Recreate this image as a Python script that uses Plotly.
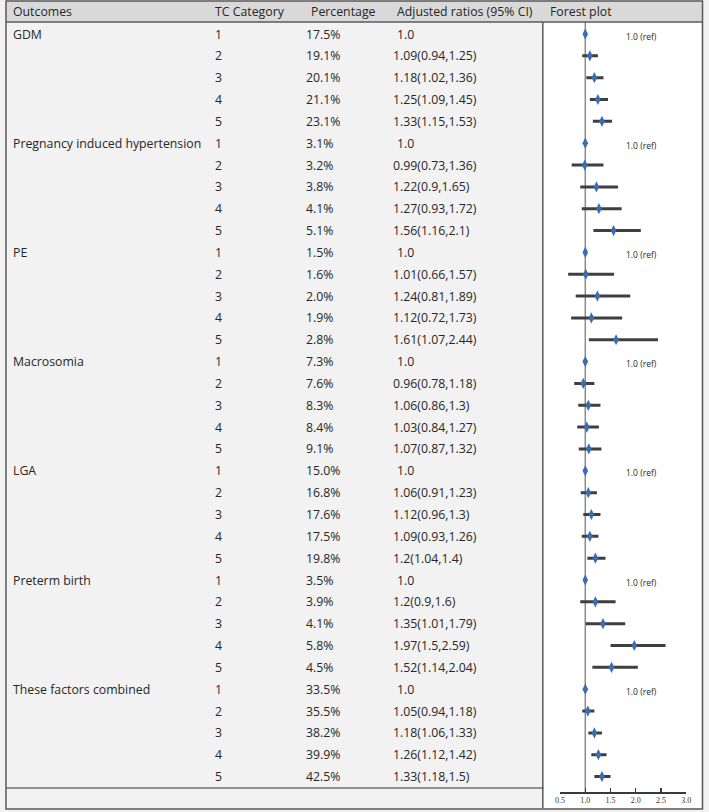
import plotly.graph_objects as go

# ---------------- data ----------------
outcomes = ["GDM", "Pregnancy induced hypertension", "PE", "Macrosomia",
            "LGA", "Preterm birth", "These factors combined"]
categories = ["1", "2", "3", "4", "5"]
percentages = [
    ["17.5%", "19.1%", "20.1%", "21.1%", "23.1%"],
    ["3.1%", "3.2%", "3.8%", "4.1%", "5.1%"],
    ["1.5%", "1.6%", "2.0%", "1.9%", "2.8%"],
    ["7.3%", "7.6%", "8.3%", "8.4%", "9.1%"],
    ["15.0%", "16.8%", "17.6%", "17.5%", "19.8%"],
    ["3.5%", "3.9%", "4.1%", "5.8%", "4.5%"],
    ["33.5%", "35.5%", "38.2%", "39.9%", "42.5%"],
]
ratio_labels = [
    ["1.0", "1.09(0.94,1.25)", "1.18(1.02,1.36)", "1.25(1.09,1.45)", "1.33(1.15,1.53)"],
    ["1.0", "0.99(0.73,1.36)", "1.22(0.9,1.65)", "1.27(0.93,1.72)", "1.56(1.16,2.1)"],
    ["1.0", "1.01(0.66,1.57)", "1.24(0.81,1.89)", "1.12(0.72,1.73)", "1.61(1.07,2.44)"],
    ["1.0", "0.96(0.78,1.18)", "1.06(0.86,1.3)", "1.03(0.84,1.27)", "1.07(0.87,1.32)"],
    ["1.0", "1.06(0.91,1.23)", "1.12(0.96,1.3)", "1.09(0.93,1.26)", "1.2(1.04,1.4)"],
    ["1.0", "1.2(0.9,1.6)", "1.35(1.01,1.79)", "1.97(1.5,2.59)", "1.52(1.14,2.04)"],
    ["1.0", "1.05(0.94,1.18)", "1.18(1.06,1.33)", "1.26(1.12,1.42)", "1.33(1.18,1.5)"],
]
ratios = [
    [1.0, 1.09, 1.18, 1.25, 1.33],
    [1.0, 0.99, 1.22, 1.27, 1.56],
    [1.0, 1.01, 1.24, 1.12, 1.61],
    [1.0, 0.96, 1.06, 1.03, 1.07],
    [1.0, 1.06, 1.12, 1.09, 1.20],
    [1.0, 1.20, 1.35, 1.97, 1.52],
    [1.0, 1.05, 1.18, 1.26, 1.33],
]
ci_low = [
    [1.0, 0.94, 1.02, 1.09, 1.15],
    [1.0, 0.73, 0.90, 0.93, 1.16],
    [1.0, 0.66, 0.81, 0.72, 1.07],
    [1.0, 0.78, 0.86, 0.84, 0.87],
    [1.0, 0.91, 0.96, 0.93, 1.04],
    [1.0, 0.90, 1.01, 1.50, 1.14],
    [1.0, 0.94, 1.06, 1.12, 1.18],
]
ci_high = [
    [1.0, 1.25, 1.36, 1.45, 1.53],
    [1.0, 1.36, 1.65, 1.72, 2.10],
    [1.0, 1.57, 1.89, 1.73, 2.44],
    [1.0, 1.18, 1.30, 1.27, 1.32],
    [1.0, 1.23, 1.30, 1.26, 1.40],
    [1.0, 1.60, 1.79, 2.59, 2.04],
    [1.0, 1.18, 1.33, 1.42, 1.50],
]
headers = ["Outcomes", "TC Category", "Percentage", "Adjusted ratios (95% CI)", "Forest plot"]
axis_ticks = [0.5, 1.0, 1.5, 2.0, 2.5, 3.0]
ref_label = "1.0 (ref)"

# ---------------- layout helpers ----------------
W, H = 709, 812
ROW0, ROWH = 34.0, 21.84
PANEL_TOP, AXIS_Y = 22.0, 792.0


def px(x):
    return x / W


def py(y):
    return 1 - y / H


def row_of(p):
    return (p - ROW0) / ROWH


FONT = "Open Sans"
TXT = "#262626"
FS = 12.3

fig = go.Figure()

ys, xs, ep, em = [], [], [], []
for g in range(len(outcomes)):
    for k in range(len(categories)):
        i = g * 5 + k
        ys.append(i)
        xs.append(ratios[g][k])
        ep.append(ci_high[g][k] - ratios[g][k])
        em.append(ratios[g][k] - ci_low[g][k])

fig.add_trace(go.Scatter(
    x=xs, y=ys, mode="markers",
    marker=dict(symbol="diamond-tall", size=8, color="#3b6db3",
                line=dict(width=0)),
    error_x=dict(type="data", symmetric=False, array=ep, arrayminus=em,
                 color="#3f3f3f", thickness=3, width=0),
    showlegend=False, hoverinfo="skip",
))

shapes = []
shapes.append(dict(type="rect", xref="paper", yref="paper",
                   x0=px(1), x1=px(707), y0=py(1), y1=py(22),
                   fillcolor="#d9d9d9", line=dict(width=0), layer="below"))
shapes.append(dict(type="rect", xref="paper", yref="paper",
                   x0=px(546), x1=px(706), y0=py(22), y1=py(808),
                   fillcolor="white", line=dict(width=0), layer="below"))
shapes.append(dict(type="line", xref="paper", yref="paper",
                   x0=px(545.5), x1=px(545.5), y0=py(22), y1=py(808),
                   line=dict(color="#5a5a5a", width=1.5)))
shapes.append(dict(type="line", xref="paper", yref="paper",
                   x0=px(1), x1=px(707), y0=py(22), y1=py(22),
                   line=dict(color="#5a5a5a", width=1.5)))
shapes.append(dict(type="line", xref="paper", yref="paper",
                   x0=px(1), x1=px(546), y0=py(788), y1=py(788),
                   line=dict(color="#333333", width=1.2)))
shapes.append(dict(type="rect", xref="paper", yref="paper",
                   x0=px(1), x1=px(707.5), y0=py(1), y1=py(809),
                   line=dict(color="#5a5a5a", width=1.5)))
shapes.append(dict(type="line", xref="x", yref="y domain",
                   x0=1.0, x1=1.0, y0=0, y1=1,
                   line=dict(color="#8a8a8a", width=1.5), layer="below"))

annotations = []
for txt, xp in zip(headers, [6, 211, 308, 396, 551]):
    annotations.append(dict(text=txt, xref="paper", yref="paper",
                            x=px(xp), y=py(12), xanchor="left", yanchor="middle",
                            showarrow=False, font=dict(family=FONT, size=FS, color=TXT)))

for g, name in enumerate(outcomes):
    base = g * 5
    annotations.append(dict(text=name, xref="paper", yref="y", x=px(6), y=base,
                            xanchor="left", yanchor="middle", showarrow=False,
                            font=dict(family=FONT, size=FS, color=TXT)))
    for k, cat in enumerate(categories):
        i = base + k
        annotations.append(dict(text=cat, xref="paper", yref="y", x=px(211), y=i,
                                xanchor="left", yanchor="middle", showarrow=False,
                                font=dict(family=FONT, size=FS, color=TXT)))
        annotations.append(dict(text=percentages[g][k], xref="paper", yref="y", x=px(303), y=i,
                                xanchor="left", yanchor="middle", showarrow=False,
                                font=dict(family=FONT, size=FS, color=TXT)))
        annotations.append(dict(text=ratio_labels[g][k], xref="paper", yref="y",
                                x=px(396 if k == 0 else 392), y=i,
                                xanchor="left", yanchor="middle", showarrow=False,
                                font=dict(family=FONT, size=FS, color=TXT)))
    annotations.append(dict(text=ref_label, xref="x", yref="y", x=1.77, y=base,
                            xanchor="left", yanchor="middle", yshift=-2, showarrow=False,
                            font=dict(family=FONT, size=8.5, color=TXT)))

fig.update_layout(
    width=W, height=H,
    margin=dict(l=0, r=0, t=0, b=0),
    paper_bgcolor="#f2f2f2",
    plot_bgcolor="rgba(0,0,0,0)",
    shapes=shapes,
    annotations=annotations,
    xaxis=dict(domain=[px(563), px(691)], range=[0.5, 3.0],
               tickvals=axis_ticks, ticktext=[f"{v:.1f}" for v in axis_ticks],
               showline=True, linecolor="#3a3a3a", linewidth=1.5,
               ticks="inside", ticklen=4, tickwidth=1.2, tickcolor="#3a3a3a",
               tickfont=dict(family="Liberation Serif", size=8, color="#333333"),
               showgrid=False, zeroline=False, fixedrange=True),
    yaxis=dict(domain=[py(AXIS_Y), py(PANEL_TOP)],
               range=[row_of(AXIS_Y), row_of(PANEL_TOP)],
               showgrid=False, zeroline=False, showticklabels=False,
               ticks="", showline=False, fixedrange=True),
)

fig.write_html("out.html",
               config={"displayModeBar": False, "staticPlot": True},
               post_script="document.body.style.margin='0';document.body.style.overflow='hidden';")
